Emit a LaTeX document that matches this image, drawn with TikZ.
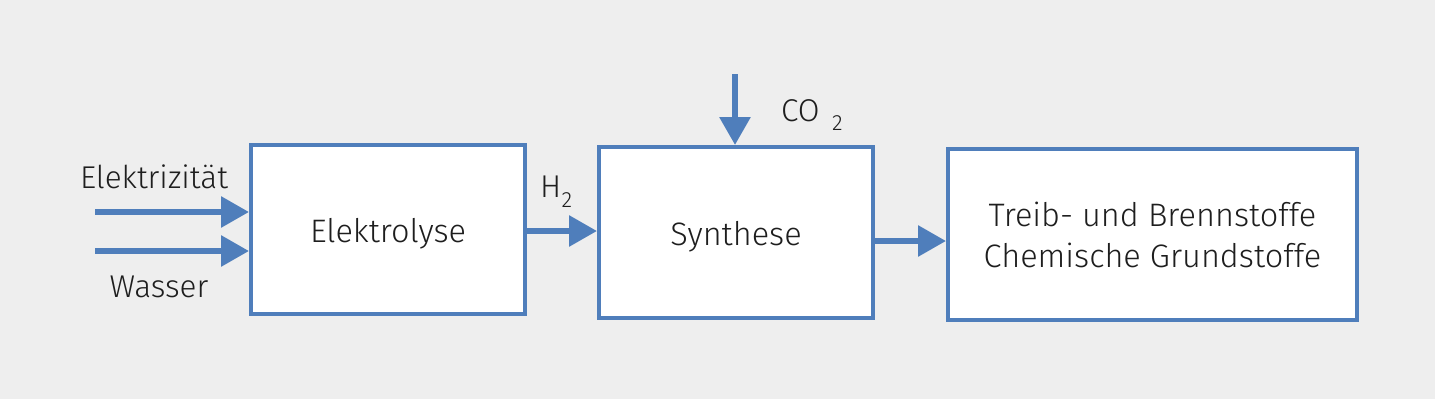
\documentclass[tikz,border=0pt]{standalone}
\usepackage{fontspec}
\setmainfont{Fira Sans Light}
\usetikzlibrary{arrows.meta}
\definecolor{bg}{HTML}{EEEEEE}
\definecolor{bl}{HTML}{4F7EBB}
\definecolor{tx}{HTML}{1E1E1E}
\tikzset{
  procbox/.style={draw=bl, line width=4pt, fill=white, inner sep=0pt, text=tx, font=\fontsize{32.5}{41}\selectfont, align=center},
  oneline/.style={text height=25pt, text depth=0pt},
  flow/.style={draw=bl, line width=6pt, -{Triangle[length=28pt,width=30pt]}},
  lbl/.style={text=tx, font=\fontsize{31.5}{36}\selectfont, inner sep=0pt},
  subl/.style={text=tx, font=\fontsize{22}{26}\selectfont, inner sep=0pt}
}
\begin{document}
\begin{tikzpicture}[x=1pt,y=-1pt]
\fill[bg] (0,0) rectangle (1435,399);
\useasboundingbox (0,0) rectangle (1435,399);
\node[procbox, oneline, minimum width=274pt, minimum height=169pt] (elek) at (388,229.5) {Elektrolyse};
\node[procbox, oneline, minimum width=274pt, minimum height=171pt] (syn) at (736,232.5) {Synthese};
\node[procbox, minimum width=409pt, minimum height=171pt] (out) at (1152.5,234.5) {Treib- und Brennstoffe\\Chemische Grundstoffe};
\coordinate (e0) at (95,212);
\coordinate (w0) at (95,251);
\coordinate (c0) at (735,74);
\draw[flow] (e0) -- (elek.west |- e0);
\draw[flow] (w0) -- (elek.west |- w0);
\draw[flow] (elek.east |- 0,231) -- (syn.west |- 0,231);
\draw[flow] (c0) -- (c0 |- syn.north);
\draw[flow] (syn.east |- 0,241) -- (out.west |- 0,241);
\node[lbl, anchor=base] (lel) at (154,188) {Elektrizität};
\node[lbl, anchor=base] (lwa) at (159,297) {Wasser};
\node[lbl, anchor=base west] (lh) at (540,197) {H};
\node[subl, anchor=base west] (lh2) at (lh.base east) [yshift=-10pt] {2};
\node[lbl, anchor=base west] (lco) at (781,121) {CO};
\node[subl, anchor=base west] (lco2) at (832,130) {2};
\end{tikzpicture}
\end{document}
